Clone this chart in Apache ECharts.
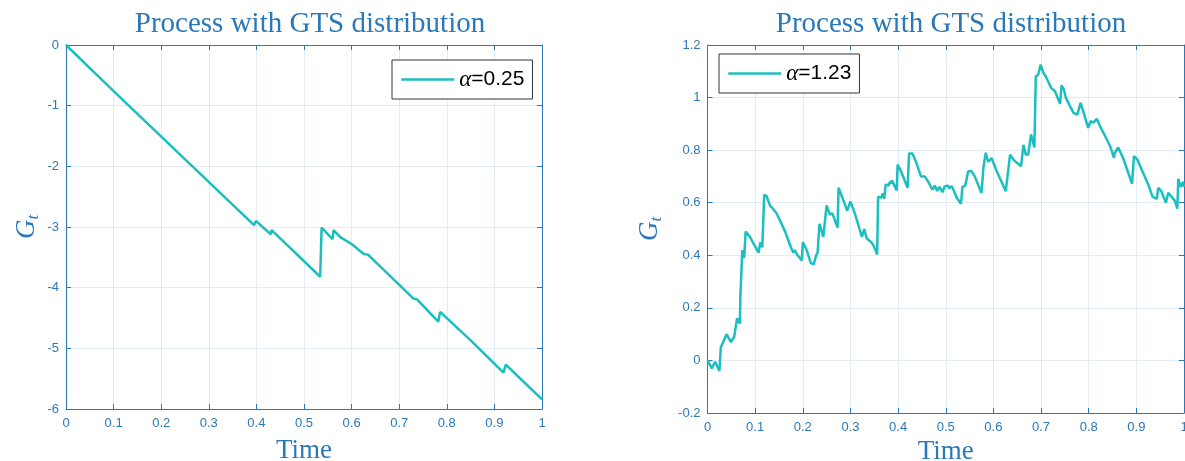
<!DOCTYPE html>
<html>
<head>
    <meta charset="utf-8">
    <title>GTS process</title>
    <script src="https://cdn.jsdelivr.net/npm/echarts@6/dist/echarts.min.js"></script>
    <style>
        body { margin: 0; background: #fff; }
    </style>
</head>
<body>
    <div id="main" style="width: 1185px;height:461px;"></div>
    <script type="text/javascript">
        // values
        var leftTime = [0, 0.100, 0.103, 0.395, 0.399, 0.430, 0.432, 0.534, 0.537, 0.560, 0.562, 0.577, 0.581,
            0.600, 0.625, 0.635, 0.730, 0.737, 0.782, 0.786, 0.849, 0.853, 0.919, 0.924, 0.968, 0.972, 1.0];
        var leftG = [0, -0.76, -0.73, -2.97, -2.90, -3.12, -3.05, -3.82, -3.01, -3.20, -3.05, -3.17, -3.15,
            -3.28, -3.44, -3.46, -4.18, -4.19, -4.56, -4.40, -4.86, -4.88, -5.40, -5.27, -5.60, -5.62, -5.84];

        var rightTime = [0, 0.003, 0.009, 0.016, 0.025, 0.028, 0.033, 0.040, 0.049, 0.056, 0.062, 0.068, 0.069,
            0.073, 0.077, 0.080, 0.089, 0.107, 0.111, 0.115, 0.119, 0.124, 0.131, 0.136, 0.145, 0.163, 0.173,
            0.180, 0.183, 0.189, 0.198, 0.200, 0.208, 0.217, 0.223, 0.228, 0.231, 0.235, 0.243, 0.247, 0.250,
            0.257, 0.262, 0.273, 0.275, 0.285, 0.293, 0.300, 0.310, 0.324, 0.329, 0.334, 0.345, 0.349, 0.356,
            0.358, 0.365, 0.368, 0.371, 0.374, 0.380, 0.383, 0.385, 0.387, 0.397, 0.399, 0.406, 0.420, 0.423,
            0.430, 0.437, 0.448, 0.452, 0.456, 0.463, 0.472, 0.477, 0.482, 0.487, 0.493, 0.498, 0.505, 0.507,
            0.512, 0.516, 0.523, 0.532, 0.535, 0.538, 0.541, 0.547, 0.554, 0.561, 0.575, 0.579, 0.584, 0.589,
            0.596, 0.607, 0.626, 0.635, 0.644, 0.648, 0.658, 0.663, 0.668, 0.673, 0.679, 0.686, 0.689, 0.694,
            0.699, 0.705, 0.710, 0.721, 0.729, 0.740, 0.743, 0.748, 0.752, 0.768, 0.776, 0.783, 0.788, 0.799,
            0.804, 0.810, 0.817, 0.824, 0.831, 0.845, 0.853, 0.855, 0.862, 0.873, 0.883, 0.891, 0.895, 0.902,
            0.911, 0.925, 0.934, 0.943, 0.946, 0.952, 0.962, 0.967, 0.974, 0.981, 0.986, 0.988, 0.993, 0.998, 1.0];
        var rightG = [0, 0.0, -0.03, -0.005, -0.04, 0.05, 0.07, 0.10, 0.07, 0.09, 0.16, 0.14, 0.245,
            0.42, 0.39, 0.49, 0.47, 0.41, 0.45, 0.43, 0.63, 0.625, 0.59, 0.58, 0.56, 0.49, 0.44,
            0.41, 0.42, 0.40, 0.38, 0.45, 0.42, 0.37, 0.365, 0.40, 0.41, 0.52, 0.47, 0.47, 0.59,
            0.555, 0.56, 0.505, 0.657, 0.61, 0.57, 0.605, 0.555, 0.47, 0.50, 0.465, 0.447, 0.435, 0.403,
            0.622, 0.62, 0.635, 0.615, 0.67, 0.665, 0.68, 0.672, 0.685, 0.647, 0.745, 0.72, 0.657, 0.787,
            0.787, 0.758, 0.70, 0.695, 0.70, 0.68, 0.65, 0.665, 0.645, 0.66, 0.64, 0.663, 0.665, 0.655,
            0.663, 0.65, 0.619, 0.596, 0.66, 0.655, 0.665, 0.72, 0.72, 0.70, 0.637, 0.733, 0.79, 0.755,
            0.77, 0.72, 0.644, 0.783, 0.76, 0.767, 0.739, 0.82, 0.783, 0.783, 0.86, 0.81, 1.081, 1.087,
            1.125, 1.094, 1.08, 1.037, 1.025, 0.976, 1.047, 1.03, 0.999, 0.942, 0.935, 0.98, 0.95, 0.885,
            0.91, 0.905, 0.919, 0.89, 0.866, 0.815, 0.771, 0.79, 0.81, 0.766, 0.714, 0.672, 0.777, 0.765,
            0.726, 0.669, 0.622, 0.615, 0.657, 0.645, 0.60, 0.638, 0.622, 0.607, 0.577, 0.691, 0.66, 0.68, 0.66];

        var legendNames = ['α=0.25', 'α=1.23'];
        var chartTitle = 'Process with GTS distribution';

        var axisBlue = '#2a78b8';
        var gridBlue = '#e2ecf6';
        var lineCyan = '#1cbfbf';
        var serif = '"Liberation Serif", "DejaVu Serif", serif';
        var sans = '"Liberation Sans", Arial, sans-serif';

        function pairs(xs, ys) {
            return xs.map(function (x, i) { return [x, ys[i]]; });
        }

        function bottomAxis(gi, gap) {
            return {
                type: 'value', gridIndex: gi, position: 'bottom', min: 0, max: 1, interval: 0.1,
                name: 'Time', nameLocation: 'middle', nameGap: gap,
                nameTextStyle: { fontFamily: serif, fontSize: 27, color: axisBlue },
                axisLine: { onZero: false, lineStyle: { color: axisBlue, width: 1 } },
                axisTick: { inside: true, length: 5, lineStyle: { color: axisBlue } },
                axisLabel: { color: axisBlue, fontFamily: sans, fontSize: 13, margin: 8 },
                splitLine: { show: true, lineStyle: { color: gridBlue } }
            };
        }
        function topAxis(gi) {
            return {
                type: 'value', gridIndex: gi, position: 'top', min: 0, max: 1, interval: 0.1,
                axisLine: { onZero: false, lineStyle: { color: axisBlue, width: 1 } },
                axisTick: { inside: true, length: 5, lineStyle: { color: axisBlue } },
                axisLabel: { show: false }, splitLine: { show: false }
            };
        }
        function leftAxis(gi, min, max, step, gap) {
            return {
                type: 'value', gridIndex: gi, position: 'left', min: min, max: max, interval: step,
                name: '{g|G}{t|t}', nameLocation: 'middle', nameGap: gap, nameRotate: 90,
                nameTextStyle: {
                    rich: {
                        g: { fontFamily: serif, fontStyle: 'italic', fontSize: 27, color: axisBlue },
                        t: { fontFamily: serif, fontStyle: 'italic', fontSize: 17, color: axisBlue, padding: [14, 0, 0, 0] }
                    }
                },
                axisLine: { onZero: false, lineStyle: { color: axisBlue, width: 1 } },
                axisTick: { inside: true, length: 5, lineStyle: { color: axisBlue } },
                axisLabel: { color: axisBlue, fontFamily: sans, fontSize: 13, margin: 7 },
                splitLine: { show: true, lineStyle: { color: gridBlue } }
            };
        }
        function rightAxis(gi, min, max, step) {
            return {
                type: 'value', gridIndex: gi, position: 'right', min: min, max: max, interval: step,
                axisLine: { onZero: false, lineStyle: { color: axisBlue, width: 1 } },
                axisTick: { inside: true, length: 5, lineStyle: { color: axisBlue } },
                axisLabel: { show: false }, splitLine: { show: false }
            };
        }
        function legendBox(name, left, top) {
            return {
                data: [name], left: left, top: top, orient: 'horizontal',
                itemWidth: 53, itemHeight: 14, padding: [8, 8, 8, 8],
                borderColor: '#333', borderWidth: 1, backgroundColor: '#fff',
                itemStyle: { opacity: 0 },
                lineStyle: { color: lineCyan, width: 2.5 },
                formatter: function (n) { return '{a|α}{b|' + n.slice(1) + '}'; },
                textStyle: {
                    rich: {
                        a: { fontFamily: serif, fontStyle: 'italic', fontSize: 23, color: '#000' },
                        b: { fontFamily: sans, fontSize: 21, color: '#000' }
                    }
                }
            };
        }

        var myChart = echarts.init(document.getElementById('main'));
        var option = {
            animation: false,
            backgroundColor: '#fff',
            title: [
                { text: chartTitle, left: 305, top: 5, textAlign: 'center',
                  textStyle: { fontFamily: serif, fontSize: 29, fontWeight: 'normal', color: axisBlue } },
                { text: chartTitle, left: 946, top: 5, textAlign: 'center',
                  textStyle: { fontFamily: serif, fontSize: 29, fontWeight: 'normal', color: axisBlue } }
            ],
            legend: [legendBox(legendNames[0], 392, 60), legendBox(legendNames[1], 719, 54)],
            grid: [
                { left: 66, right: 643, top: 45, bottom: 52, outerBoundsMode: 'none' },
                { left: 707.5, right: 1, top: 45, bottom: 48, outerBoundsMode: 'none' }
            ],
            xAxis: [bottomAxis(0, 28), topAxis(0), bottomAxis(1, 25), topAxis(1)],
            yAxis: [leftAxis(0, -6, 0, 1, 24), rightAxis(0, -6, 0, 1),
                    leftAxis(1, -0.2, 1.2, 0.2, 42), rightAxis(1, -0.2, 1.2, 0.2)],
            series: [
                { name: legendNames[0], type: 'line', xAxisIndex: 0, yAxisIndex: 0, symbol: 'none',
                  lineStyle: { color: lineCyan, width: 2.5 }, itemStyle: { color: lineCyan },
                  data: pairs(leftTime, leftG) },
                { name: legendNames[1], type: 'line', xAxisIndex: 2, yAxisIndex: 2, symbol: 'none',
                  lineStyle: { color: lineCyan, width: 2.5 }, itemStyle: { color: lineCyan },
                  data: pairs(rightTime, rightG) }
            ]
        };
        myChart.setOption(option);
    </script>
</body>
</html>
